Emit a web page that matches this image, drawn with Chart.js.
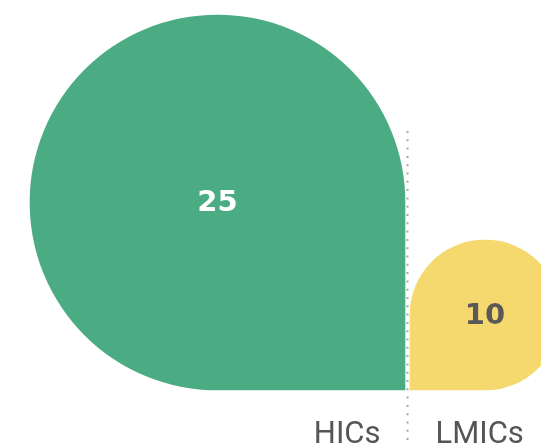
<!DOCTYPE html>
<html>
<head>
<meta charset="utf-8">
<script src="https://cdn.jsdelivr.net/npm/chart.js@4"></script>
<style>
  body { margin: 0; background: #fff; }
  #wrap { width: 541px; height: 446px; position: relative; }
</style>
</head>
<body>
<div id="wrap"><canvas id="c1"></canvas></div>
<script>
"use strict";

let labels = ['HICs', 'LMICs'];
let values = [25, 10];
let colors = ['#4bac83', '#f5d86e'];
let textColors = ['#ffffff', '#595959'];

// round every corner except the one that touches the divider
let radii = [
    {topLeft: 999, topRight: 999, bottomLeft: 999, bottomRight: 0},
    {topLeft: 999, topRight: 999, bottomLeft: 0, bottomRight: 999},
];

let c1 = document.querySelector('#c1');

// square bars: width = height in pixels, taken from the y scale
function side(ctx) {
    let y = ctx.chart.scales.y;
    let v = values[ctx.datasetIndex];
    return y.getPixelForValue(0) - y.getPixelForValue(v);
}

let dividerPlugin = {
    id: 'divider',
    afterDatasetsDraw(chart) {
        let ctx = chart.ctx;
        let a = chart.getDatasetMeta(0).data[0];
        let b = chart.getDatasetMeta(1).data[1];
        let xd = ((a.x + a.width / 2) + (b.x - b.width / 2)) / 2;

        ctx.save();
        // dotted line
        ctx.strokeStyle = '#a8a8a8';
        ctx.lineWidth = 2;
        ctx.setLineDash([2, 6.3]);
        ctx.beginPath();
        ctx.moveTo(xd, 131);
        ctx.lineTo(xd, chart.height);
        ctx.stroke();
        ctx.setLineDash([]);

        // value labels in the middle of each bar
        ctx.font = 'bold 29px "DejaVu Sans"';
        ctx.textAlign = 'center';
        ctx.textBaseline = 'middle';
        chart.data.datasets.forEach((ds, i) => {
            let el = chart.getDatasetMeta(i).data[i];
            ctx.fillStyle = textColors[i];
            ctx.fillText(String(values[i]), el.x, (el.y + el.base) / 2 + 1);
        });

        // category labels on both sides of the divider
        ctx.font = '31px Roboto';
        ctx.fillStyle = '#555555';
        ctx.textBaseline = 'alphabetic';
        ctx.textAlign = 'right';
        ctx.fillText(labels[0], xd - 27, 443);
        ctx.textAlign = 'left';
        ctx.fillText(labels[1], xd + 28, 443);
        ctx.restore();
    }
};

let opts = {
    type: 'bar',
    data: {
        labels: labels,
        datasets: values.map((v, i) => ({
            label: labels[i],
            data: labels.map((_, j) => j === i ? v : null),
            backgroundColor: colors[i],
            borderWidth: 0,
            borderSkipped: false,
            borderRadius: radii[i],
            barThickness: side,
            clip: false,
        })),
    },
    options: {
        responsive: true,
        maintainAspectRatio: false,
        animation: false,
        skipNull: true,
        layout: {
            padding: {left: 217.5, right: 56, top: 15, bottom: 56},
        },
        scales: {
            x: {display: false, offset: false},
            y: {display: false, min: 0, max: 25},
        },
        plugins: {
            legend: {display: false},
            tooltip: {enabled: false},
        },
    },
    plugins: [dividerPlugin],
};

let chart1 = new Chart(c1, opts);
</script>
</body>
</html>
